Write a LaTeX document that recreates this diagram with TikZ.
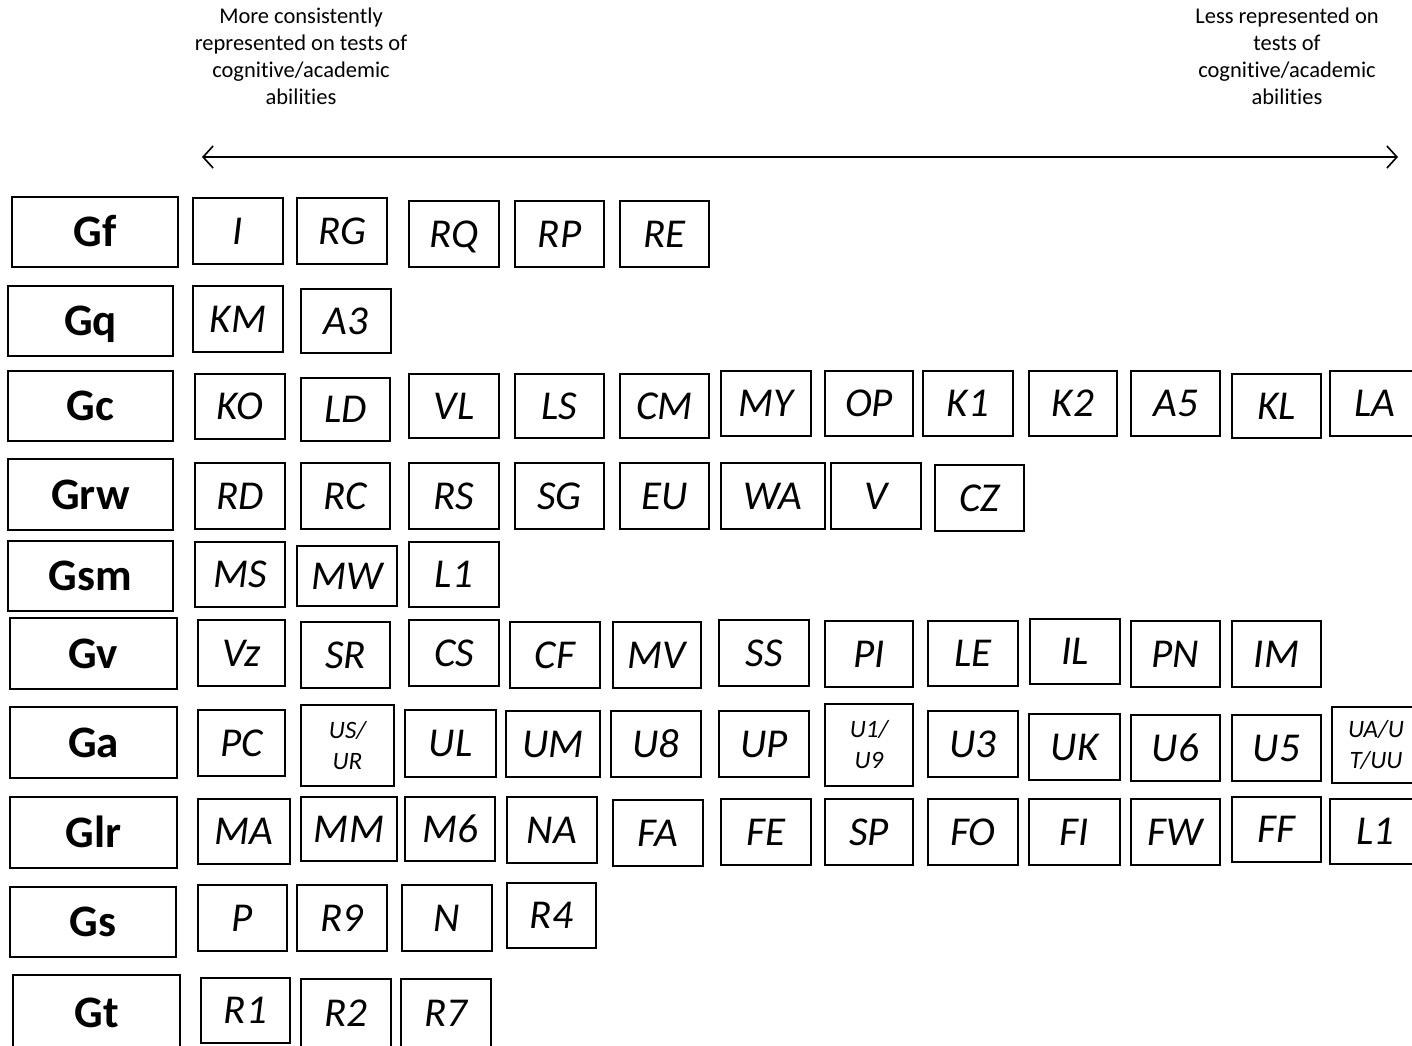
\documentclass[tikz,border=0pt]{standalone}
\usepackage{fontspec}
\setmainfont[Ligatures=NoCommon]{Carlito}
\usetikzlibrary{arrows.meta}
\tikzset{
  cell/.style={draw=black, line width=1.6pt, inner sep=0pt, text height=26.4pt, text depth=0pt, font=\fontsize{41}{44}\selectfont\itshape},
  small/.style={font=\fontsize{25}{31}\selectfont\itshape, align=center, text height={}, text depth={}},
  gbox/.style={draw=black, line width=1.6pt, inner sep=0pt, text height=29pt, text depth=0pt, font=\fontsize{45}{48}\selectfont\bfseries},
  head/.style={align=center, inner sep=0pt, font=\fontsize{22.5}{27}\selectfont},
  axis/.style={line width=1.6pt, {Straight Barb[length=10pt,width=22pt,line width=1.6pt]}-{Straight Barb[length=10pt,width=22pt,line width=1.6pt]}}
}
\newcommand\bx[7][cell]{\node[#1, minimum width={(#5)-(#3)}, minimum height={(#6)-(#4)}] (#2) at ({((#3)+(#5))/2},{((#4)+(#6))/2}) {#7};}
\begin{document}
\begin{tikzpicture}[x=1pt,y=-1pt]
\useasboundingbox (0,0) rectangle (1412,1045);
\clip (0,0) rectangle (1412,1045);
\fill[white] (0,0) rectangle (1412,1045);
% header
\node[head] (hl) at (301,56) {More consistently\\represented on tests of\\cognitive/academic\\abilities};
\node[head] (hr) at (1287,56) {Less represented on\\tests of\\cognitive/academic\\abilities};
\coordinate (al) at (202,157);
\coordinate (ar) at (1398,157);
\draw[axis] (al) -- (ar);
% Gf
\bx[gbox]{gf}{12}{197}{178}{267}{Gf}
\bx{gfa}{193}{198}{283}{264}{I}
\bx{gfb}{297}{198}{387}{264}{RG}
\bx{gfc}{409}{201}{499}{267}{RQ}
\bx{gfd}{515}{201}{604}{267}{RP}
\bx{gfe}{620}{201}{709}{267}{RE}
% Gq
\bx[gbox]{gq}{8}{286}{173}{356}{Gq}
\bx{gqa}{193}{286}{283}{352}{KM}
\bx{gqb}{301}{289}{391}{353}{A3}
% Gc
\bx[gbox]{gc}{8}{371}{173}{441}{Gc}
\bx{gca}{195}{374}{285}{439}{KO}
\bx{gcb}{301}{378}{390}{441}{LD}
\bx{gcc}{409}{374}{499}{438}{VL}
\bx{gcd}{515}{374}{604}{438}{LS}
\bx{gce}{620}{374}{709}{438}{CM}
\bx{gcf}{721}{371}{811}{436}{MY}
\bx{gcg}{825}{371}{913}{436}{OP}
\bx{gch}{923}{371}{1013}{436}{K1}
\bx{gci}{1029}{371}{1117}{436}{K2}
\bx{gcj}{1131}{371}{1220}{436}{A5}
\bx{gck}{1232}{374}{1321}{438}{KL}
\bx{gcl}{1330}{371}{1420}{436}{LA}
% Grw
\bx[gbox]{grw}{8}{459}{173}{530}{Grw}
\bx{grwa}{195}{463}{285}{529}{RD}
\bx{grwb}{301}{463}{390}{529}{RC}
\bx{grwc}{409}{463}{499}{529}{RS}
\bx{grwd}{515}{463}{604}{529}{SG}
\bx{grwe}{620}{463}{709}{529}{EU}
\bx{grwf}{721}{463}{825}{529}{WA}
\bx{grwg}{831}{463}{921}{529}{V}
\bx{grwh}{935}{465}{1024}{531}{CZ}
% Gsm
\bx[gbox]{gsm}{8}{541}{173}{611}{Gsm}
\bx{gsma}{195}{542}{285}{607}{MS}
\bx{gsmb}{297}{546}{397}{606}{MW}
\bx{gsmc}{409}{542}{499}{607}{L1}
% Gv
\bx[gbox]{gv}{10}{618}{177}{689}{Gv}
\bx{gva}{198}{620}{285}{686}{Vz}
\bx{gvb}{301}{622}{390}{688}{SR}
\bx{gvc}{409}{620}{499}{686}{CS}
\bx{gvd}{510}{622}{600}{688}{CF}
\bx{gve}{613}{622}{701}{688}{MV}
\bx{gvf}{719}{620}{809}{686}{SS}
\bx{gvg}{825}{621}{913}{687}{PI}
\bx{gvh}{928}{621}{1018}{686}{LE}
\bx{gvi}{1030}{619}{1120}{684}{IL}
\bx{gvj}{1131}{621}{1220}{687}{PN}
\bx{gvk}{1232}{621}{1321}{687}{IM}
% Ga
\bx[gbox]{ga}{10}{707}{177}{778}{Ga}
\bx{gaa}{198}{710}{285}{776}{PC}
\bx[cell,small]{gab}{301}{705}{394}{786}{US/\\UR}
\bx{gac}{405}{710}{496}{777}{UL}
\bx{gad}{506}{711}{600}{777}{UM}
\bx{gae}{611}{711}{701}{777}{U8}
\bx{gaf}{719}{711}{809}{777}{UP}
\bx[cell,small]{gag}{825}{704}{913}{786}{U1/\\U9}
\bx{gah}{928}{711}{1018}{777}{U3}
\bx{gai}{1029}{714}{1120}{780}{UK}
\bx{gaj}{1131}{715}{1220}{781}{U6}
\bx{gak}{1232}{715}{1321}{781}{U5}
\bx[cell,small]{gal}{1332}{707}{1420}{783}{UA/U\\T/UU}
% Glr
\bx[gbox]{glr}{10}{797}{177}{868}{Glr}
\bx{glra}{198}{799}{290}{864}{MA}
\bx{glrb}{301}{797}{397}{861}{MM}
\bx{glrc}{405}{797}{495}{861}{M6}
\bx{glrd}{507}{797}{597}{863}{NA}
\bx{glre}{613}{800}{703}{866}{FA}
\bx{glrf}{721}{799}{811}{865}{FE}
\bx{glrg}{825}{799}{913}{865}{SP}
\bx{glrh}{928}{799}{1018}{865}{FO}
\bx{glri}{1029}{799}{1120}{865}{FI}
\bx{glrj}{1131}{799}{1220}{865}{FW}
\bx{glrk}{1232}{797}{1321}{862}{FF}
\bx{glrl}{1330}{799}{1420}{864}{L1}
% Gs
\bx[gbox]{gs}{10}{887}{176}{957}{Gs}
\bx{gsa}{198}{885}{287}{951}{P}
\bx{gsb}{297}{885}{387}{951}{R9}
\bx{gsc}{402}{885}{492}{951}{N}
\bx{gsd}{507}{883}{596}{948}{R4}
% Gt
\bx[gbox]{gt}{13}{975}{180}{1050}{Gt}
\bx{gta}{201}{978}{290}{1043}{R1}
\bx{gtb}{301}{979}{391}{1048}{R2}
\bx{gtc}{401}{979}{491}{1048}{R7}
\end{tikzpicture}
\end{document}
